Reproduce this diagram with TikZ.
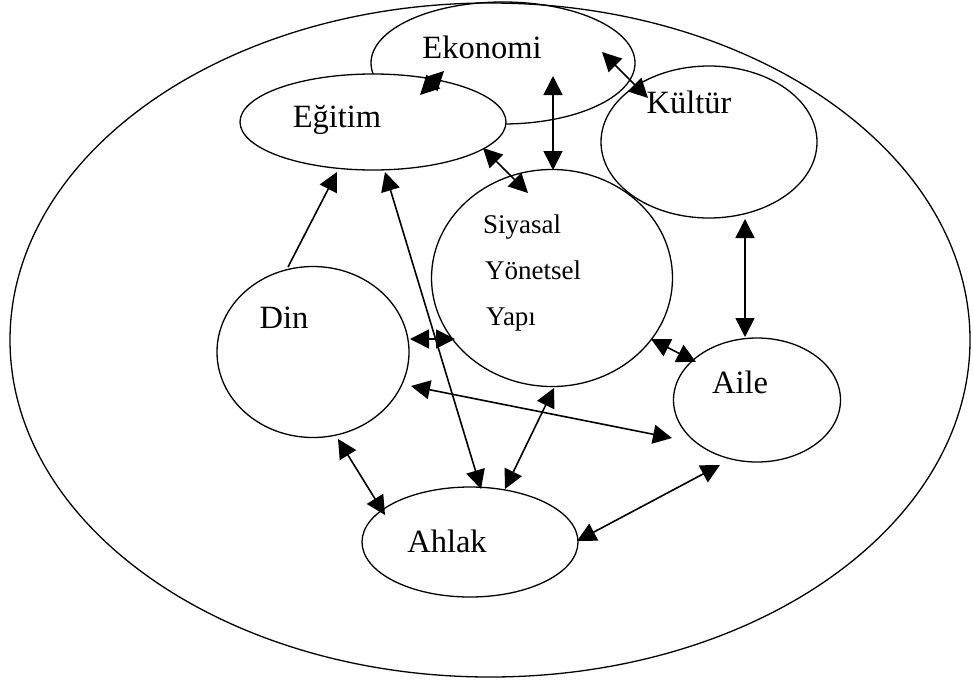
\documentclass[tikz,border=0pt]{standalone}
\usepackage{fontspec}
\setmainfont{Liberation Serif}
\usetikzlibrary{shapes.geometric,arrows.meta}
\begin{document}
\begin{tikzpicture}[x=1pt,y=-1pt,
  blob/.style={ellipse, draw, line width=1.3pt, inner sep=0pt},
  lbl/.style={font=\fontsize{32.5}{38}\selectfont, inner sep=0pt},
  slbl/.style={font=\fontsize{27}{31}\selectfont, inner sep=0pt, anchor=base west},
  >={Triangle[length=19pt,width=19pt]},
  conn/.style={line width=1.6pt, <->},
  oneway/.style={line width=1.6pt, ->}]
\useasboundingbox (0,0) rectangle (973,680);
% shapes
\node[blob, minimum width=960pt, minimum height=674pt] (outer) at (490,340) {};
\node[blob, minimum width=264pt, minimum height=122pt] (eko) at (503,63) {};
\node[blob, minimum width=216pt, minimum height=152pt] (kul) at (709,142) {};
\node[blob, fill=white, minimum width=266pt, minimum height=96pt] (egt) at (373,122) {};
\node[blob, minimum width=241pt, minimum height=217pt] (siy) at (552,278) {};
\node[blob, minimum width=192pt, minimum height=171pt] (din) at (313,352) {};
\node[blob, minimum width=167pt, minimum height=124pt] (aile) at (757,400) {};
\node[blob, minimum width=216pt, minimum height=110pt] (ahl) at (470,542) {};
% labels
\node[lbl, anchor=base] (ekoT) at (482,58) {Ekonomi};
\node[lbl, anchor=base] (egtT) at (337,127) {Eğitim};
\node[lbl, anchor=base] (kulT) at (689,113) {Kültür};
\node[lbl, anchor=base] (dinT) at (284,328) {Din};
\node[lbl, anchor=base] (aileT) at (740,393) {Aile};
\node[lbl, anchor=base] (ahlT) at (447,552) {Ahlak};
\node[slbl] (siyT1) at (483,233) {Siyasal};
\node[slbl] (siyT2) at (485,279) {Yönetsel};
\node[slbl] (siyT3) at (486,325) {Yapı};
% connector end points
\coordinate (ekoA) at (444,71);  \coordinate (egtA) at (420,95);
\coordinate (ekoB) at (553,76);  \coordinate (siyB) at (553,170);
\coordinate (ekoC) at (602,52);  \coordinate (kulC) at (648,98);
\coordinate (egtD) at (483,148); \coordinate (siyD) at (528,193);
\coordinate (dinE) at (288,267); \coordinate (egtE) at (337,172);
\coordinate (egtF) at (385,172); \coordinate (ahlF) at (481,489);
\coordinate (dinG) at (410,339); \coordinate (siyG) at (455,339);
\coordinate (dinH) at (411,386); \coordinate (aileH) at (672,438);
\coordinate (siyI) at (554,388); \coordinate (ahlI) at (505,489);
\coordinate (dinJ) at (338,439); \coordinate (ahlJ) at (385,515);
\coordinate (ahlK) at (577,541); \coordinate (aileK) at (720,465);
\coordinate (kulL) at (745,219); \coordinate (aileL) at (745,337);
\coordinate (siyM) at (651,339); \coordinate (aileM) at (696,362);
% connectors
\draw[conn] (egtA) -- (ekoA);
\draw[conn] (ekoB) -- (siyB);
\draw[conn] (ekoC) -- (kulC);
\draw[conn] (egtD) -- (siyD);
\draw[oneway] (dinE) -- (egtE);
\draw[conn] (egtF) -- (ahlF);
\draw[conn] (dinG) -- (siyG);
\draw[conn] (dinH) -- (aileH);
\draw[conn] (siyI) -- (ahlI);
\draw[conn] (dinJ) -- (ahlJ);
\draw[conn] (ahlK) -- (aileK);
\draw[conn] (kulL) -- (aileL);
\draw[conn] (siyM) -- (aileM);
\end{tikzpicture}
\end{document}
